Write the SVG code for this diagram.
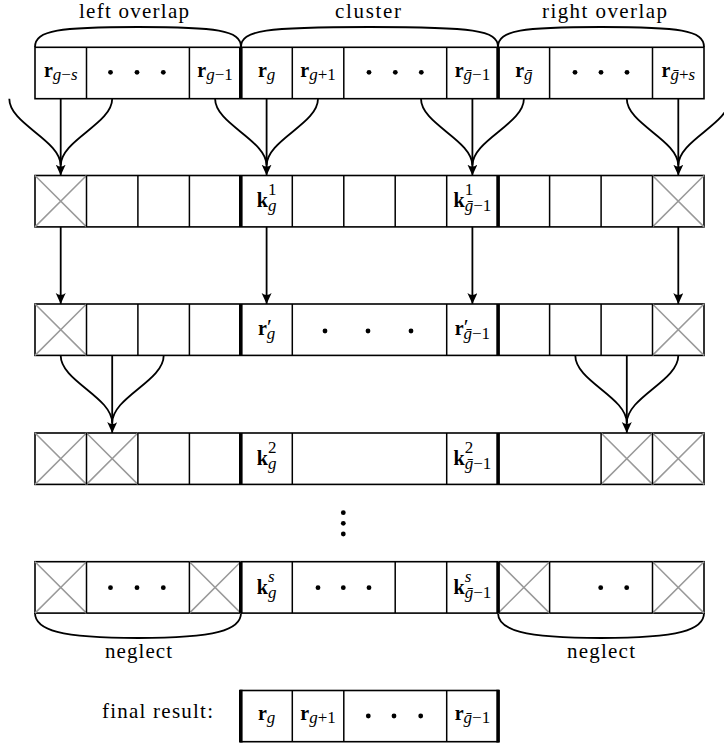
<svg xmlns="http://www.w3.org/2000/svg" width="724" height="746" viewBox="0 0 724 746" font-family="Liberation Serif, DejaVu Serif, serif">
<style>
.box{fill:#fff;stroke:#000;stroke-width:1.6}
.thin{fill:none;stroke:#000;stroke-width:1.5}
.thick{fill:none;stroke:#000;stroke-width:3.6}
.x{fill:none;stroke:#999;stroke-width:1.5}
.con{fill:none;stroke:#000;stroke-width:1.8}
.brace{fill:none;stroke:#000;stroke-width:1.8}
.t{font-family:'Liberation Serif','DejaVu Serif',serif;font-size:20px;fill:#000}
.L{font-size:21px}
.b{font-weight:bold}
.s{font-size:17px}
.p{font-size:22px}
.i{font-style:italic}
.dot{fill:#000}
</style>
<defs>
<marker id="ah" markerWidth="12" markerHeight="11" refX="11" refY="5" orient="auto" markerUnits="userSpaceOnUse">
<path d="M0,0 Q4,5 0,10 L11,5 Z" fill="#000"/>
</marker>
</defs>

<g id="braces">
<path class="brace" d="M35,47 C35,30 60,27 138,27 C216,27 241,30 241,47"/>
<path class="brace" d="M241,47 C241,30 266,27 369.5,27 C473,27 498,30 498,47"/>
<path class="brace" d="M498,47 C498,30 523,27 601,27 C679,27 704,30 704,47"/>
<path class="brace" d="M35,613 C35,630 60,638 138,638 C216,638 241,630 241,613"/>
<path class="brace" d="M498,613 C498,630 523,638 601,638 C679,638 704,630 704,613"/>
<text class="t L" x="79" y="17.5" textLength="110" lengthAdjust="spacing">left overlap</text>
<text class="t L" x="335" y="17.5" textLength="66" lengthAdjust="spacing">cluster</text>
<text class="t L" x="542" y="17.5" textLength="125" lengthAdjust="spacing">right overlap</text>
<text class="t L" x="105" y="658" textLength="67" lengthAdjust="spacing">neglect</text>
<text class="t L" x="567" y="658" textLength="68" lengthAdjust="spacing">neglect</text>
</g>

<g id="row1">
<rect class="box" x="35" y="47.3" width="669" height="51.4"/>
<path class="thin" d="M86.5,47.3V98.7M189.4,47.3V98.7M292.3,47.3V98.7M343.8,47.3V98.7M446.7,47.3V98.7M549.6,47.3V98.7M652.5,47.3V98.7"/>
<path class="thick" d="M240.8,47.3V98.7M498.1,47.3V98.7"/>
<text class="t" x="60.7" y="77" text-anchor="middle"><tspan class="b">r</tspan><tspan class="s i" dy="3">g</tspan><tspan class="s">−</tspan><tspan class="s i">s</tspan></text>
<text class="t" x="215.1" y="77" text-anchor="middle"><tspan class="b">r</tspan><tspan class="s i" dy="3">g</tspan><tspan class="s">−1</tspan></text>
<text class="t" x="266.6" y="77" text-anchor="middle"><tspan class="b">r</tspan><tspan class="s i" dy="3">g</tspan></text>
<text class="t" x="318" y="77" text-anchor="middle"><tspan class="b">r</tspan><tspan class="s i" dy="3">g</tspan><tspan class="s">+1</tspan></text>
<text class="t" x="472.4" y="77" text-anchor="middle"><tspan class="b">r</tspan><tspan class="s i" dy="3">ḡ</tspan><tspan class="s">−1</tspan></text>
<text class="t" x="523.9" y="77" text-anchor="middle"><tspan class="b">r</tspan><tspan class="s i" dy="3">ḡ</tspan></text>
<text class="t" x="678.3" y="77" text-anchor="middle"><tspan class="b">r</tspan><tspan class="s i" dy="3">ḡ</tspan><tspan class="s">+</tspan><tspan class="s i">s</tspan></text>
<circle class="dot" cx="110.5" cy="72.3" r="2.4"/><circle class="dot" cx="137" cy="72.3" r="2.4"/><circle class="dot" cx="163.3" cy="72.3" r="2.4"/>
<circle class="dot" cx="369" cy="72.3" r="2.4"/><circle class="dot" cx="395.3" cy="72.3" r="2.4"/><circle class="dot" cx="421.3" cy="72.3" r="2.4"/>
<circle class="dot" cx="575" cy="72.3" r="2.4"/><circle class="dot" cx="601" cy="72.3" r="2.4"/><circle class="dot" cx="627" cy="72.3" r="2.4"/>
</g>

<g id="row2">
<rect class="box" x="35" y="175.5" width="669" height="51.4"/>
<path class="x" d="M35,175.5L86.5,226.9M35,226.9L86.5,175.5M652.5,175.5L704,226.9M652.5,226.9L704,175.5"/>
<path class="thin" d="M86.5,175.5V226.9M137.9,175.5V226.9M189.4,175.5V226.9M292.3,175.5V226.9M343.8,175.5V226.9M395.2,175.5V226.9M446.7,175.5V226.9M549.6,175.5V226.9M601.1,175.5V226.9M652.5,175.5V226.9"/>
<path class="thick" d="M240.8,175.5V226.9M498.1,175.5V226.9"/>
<text class="t" x="266.6" y="207.3" text-anchor="middle"><tspan class="b">k</tspan><tspan class="s" dy="-12">1</tspan><tspan class="s i" dx="-8.5" dy="16">g</tspan></text>
<text class="t" x="472.4" y="207.3" text-anchor="middle"><tspan class="b">k</tspan><tspan class="s" dy="-12">1</tspan><tspan class="s i" dx="-8.5" dy="16">ḡ</tspan><tspan class="s">−1</tspan></text>
</g>

<g id="row3">
<rect class="box" x="35" y="304" width="669" height="51.4"/>
<path class="x" d="M35,304L86.5,355.4M35,355.4L86.5,304M652.5,304L704,355.4M652.5,355.4L704,304"/>
<path class="thin" d="M86.5,304V355.4M137.9,304V355.4M189.4,304V355.4M292.3,304V355.4M446.7,304V355.4M549.6,304V355.4M601.1,304V355.4M652.5,304V355.4"/>
<path class="thick" d="M240.8,304V355.4M498.1,304V355.4"/>
<text class="t" x="266.6" y="335" text-anchor="middle"><tspan class="b">r</tspan><tspan class="p" dy="-1">′</tspan><tspan class="s i" dx="-5" dy="5">g</tspan></text>
<text class="t" x="472.4" y="335" text-anchor="middle"><tspan class="b">r</tspan><tspan class="p" dy="-1">′</tspan><tspan class="s i" dx="-5" dy="5">ḡ</tspan><tspan class="s">−1</tspan></text>
<circle class="dot" cx="325" cy="331" r="2.4"/><circle class="dot" cx="368" cy="331" r="2.4"/><circle class="dot" cx="411" cy="331" r="2.4"/>
</g>

<g id="row4">
<rect class="box" x="35" y="433" width="669" height="51.4"/>
<path class="x" d="M35,433L86.5,484.4M35,484.4L86.5,433M86.5,433L137.9,484.4M86.5,484.4L137.9,433M601.1,433L652.5,484.4M601.1,484.4L652.5,433M652.5,433L704,484.4M652.5,484.4L704,433"/>
<path class="thin" d="M86.5,433V484.4M137.9,433V484.4M189.4,433V484.4M292.3,433V484.4M446.7,433V484.4M601.1,433V484.4M652.5,433V484.4"/>
<path class="thick" d="M240.8,433V484.4M498.1,433V484.4"/>
<text class="t" x="266.6" y="464.8" text-anchor="middle"><tspan class="b">k</tspan><tspan class="s" dy="-12">2</tspan><tspan class="s i" dx="-8.5" dy="16">g</tspan></text>
<text class="t" x="472.4" y="464.8" text-anchor="middle"><tspan class="b">k</tspan><tspan class="s" dy="-12">2</tspan><tspan class="s i" dx="-8.5" dy="16">ḡ</tspan><tspan class="s">−1</tspan></text>
</g>

<g id="vdots">
<circle class="dot" cx="343.3" cy="512.7" r="2.4"/><circle class="dot" cx="343.3" cy="523.3" r="2.4"/><circle class="dot" cx="343.3" cy="534" r="2.4"/>
</g>

<g id="row5">
<rect class="box" x="35" y="561.7" width="669" height="51.4"/>
<path class="x" d="M35,561.7L86.5,613.1M35,613.1L86.5,561.7M189.4,561.7L240.8,613.1M189.4,613.1L240.8,561.7M498.1,561.7L549.6,613.1M498.1,613.1L549.6,561.7M652.5,561.7L704,613.1M652.5,613.1L704,561.7"/>
<path class="thin" d="M86.5,561.7V613.1M189.4,561.7V613.1M292.3,561.7V613.1M395.2,561.7V613.1M446.7,561.7V613.1M549.6,561.7V613.1M652.5,561.7V613.1"/>
<path class="thick" d="M240.8,561.7V613.1M498.1,561.7V613.1"/>
<text class="t" x="266.6" y="593.5" text-anchor="middle"><tspan class="b">k</tspan><tspan class="s i" dy="-12">s</tspan><tspan class="s i" dx="-6.6" dy="16">g</tspan></text>
<text class="t" x="472.4" y="593.5" text-anchor="middle"><tspan class="b">k</tspan><tspan class="s i" dy="-12">s</tspan><tspan class="s i" dx="-6.6" dy="16">ḡ</tspan><tspan class="s">−1</tspan></text>
<circle class="dot" cx="110.5" cy="587.7" r="2.4"/><circle class="dot" cx="137" cy="587.7" r="2.4"/><circle class="dot" cx="163.3" cy="587.7" r="2.4"/>
<circle class="dot" cx="318" cy="587.7" r="2.4"/><circle class="dot" cx="343.3" cy="587.7" r="2.4"/><circle class="dot" cx="369" cy="587.7" r="2.4"/>
<circle class="dot" cx="600.7" cy="587.7" r="2.4"/><circle class="dot" cx="626.7" cy="587.7" r="2.4"/>
</g>

<g id="final">
<text class="t L" x="102" y="718" textLength="111" lengthAdjust="spacing">final result:</text>
<rect class="box" x="240.8" y="690.5" width="257.3" height="51.2"/>
<path class="thin" d="M292.3,690.5V741.7M343.8,690.5V741.7M446.7,690.5V741.7"/>
<path class="thick" d="M240.8,689.7V742.5M498.1,689.7V742.5"/>
<text class="t" x="266.6" y="720" text-anchor="middle"><tspan class="b">r</tspan><tspan class="s i" dy="3">g</tspan></text>
<text class="t" x="318" y="720" text-anchor="middle"><tspan class="b">r</tspan><tspan class="s i" dy="3">g</tspan><tspan class="s">+1</tspan></text>
<text class="t" x="472.4" y="720" text-anchor="middle"><tspan class="b">r</tspan><tspan class="s i" dy="3">ḡ</tspan><tspan class="s">−1</tspan></text>
<circle class="dot" cx="368.3" cy="716" r="2.4"/><circle class="dot" cx="394" cy="716" r="2.4"/><circle class="dot" cx="420.7" cy="716" r="2.4"/>
</g>

<g id="connectors">
<path class="con" d="M9.3,98.7C9.3,124 60.7,140 60.7,165.5M112.2,98.7C112.2,124 60.7,140 60.7,165.5"/>
<path class="con" d="M215.1,98.7C215.1,124 266.6,140 266.6,165.5M318,98.7C318,124 266.6,140 266.6,165.5"/>
<path class="con" d="M421,98.7C421,124 472.4,140 472.4,165.5M523.9,98.7C523.9,124 472.4,140 472.4,165.5"/>
<path class="con" d="M626.8,98.7C626.8,124 678.3,140 678.3,165.5M729.7,98.7C729.7,124 678.3,140 678.3,165.5"/>
<path class="con" d="M60.7,98.7V175.5" marker-end="url(#ah)"/>
<path class="con" d="M266.6,98.7V175.5" marker-end="url(#ah)"/>
<path class="con" d="M472.4,98.7V175.5" marker-end="url(#ah)"/>
<path class="con" d="M678.3,98.7V175.5" marker-end="url(#ah)"/>
<path class="con" d="M60.7,226.9V304" marker-end="url(#ah)"/>
<path class="con" d="M266.6,226.9V304" marker-end="url(#ah)"/>
<path class="con" d="M472.4,226.9V304" marker-end="url(#ah)"/>
<path class="con" d="M678.3,226.9V304" marker-end="url(#ah)"/>
<path class="con" d="M60.7,355.4C60.7,381 112.2,397 112.2,423M163.7,355.4C163.7,381 112.2,397 112.2,423"/>
<path class="con" d="M112.2,355.4V433" marker-end="url(#ah)"/>
<path class="con" d="M575.3,355.4C575.3,381 626.8,397 626.8,423M678.3,355.4C678.3,381 626.8,397 626.8,423"/>
<path class="con" d="M626.8,355.4V433" marker-end="url(#ah)"/>
</g>
</svg>
